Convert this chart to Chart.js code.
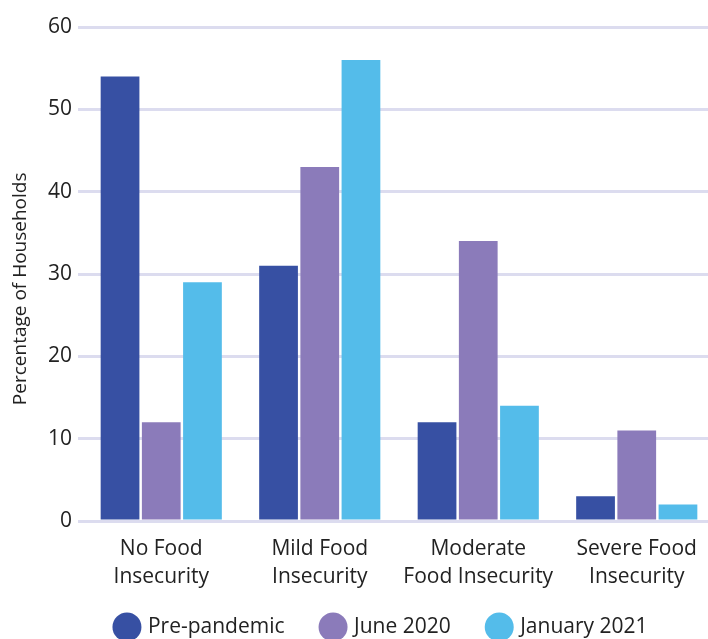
<!DOCTYPE html>
<html>
<head>
<meta charset="utf-8">
<script src="https://cdn.jsdelivr.net/npm/chart.js@4.4.0/dist/chart.umd.min.js"></script>
<style>
  html, body { margin: 0; padding: 0; background: #fff; overflow: hidden; }
  #wrap { width: 708px; height: 639px; overflow: hidden; }
</style>
</head>
<body>
<div id="wrap"><canvas id="chart" width="716" height="666"></canvas></div>
<script>
const CATEGORIES = [
  ["No Food", "Insecurity"],
  ["Mild Food", "Insecurity"],
  ["Moderate", "Food Insecurity"],
  ["Severe Food", "Insecurity"],
];
const SERIES_NAMES = ["Pre-pandemic", "June 2020", "January 2021"];
const PRE_PANDEMIC = [54, 31, 12, 3];
const JUNE_2020 = [12, 43, 34, 11];
const JANUARY_2021 = [29, 56, 14, 2];
const Y_TICKS = [0, 10, 20, 30, 40, 50, 60];
// trailing spaces push the rotated title a little lower, as in the source
const Y_TITLE = 'Percentage of Households      ';

const COLORS = ['#3750a3', '#8b7bba', '#54bcea'];
const FONT = "'Open Sans', 'Noto Sans', sans-serif";
const TEXT_COLOR = '#222222';

Chart.defaults.font.family = FONT;
Chart.defaults.color = TEXT_COLOR;

function make_dataset(i, values) {
  return {
    label: SERIES_NAMES[i],
    data: values,
    backgroundColor: COLORS[i],
    borderWidth: 0,
    categoryPercentage: 0.78,
    barPercentage: 0.94,
  };
}

// the legend row sits a bit right of centre and tucked up close to the labels
const legendShift = {
  id: 'legendShift',
  afterLayout(chart) {
    const lg = chart.legend;
    lg.left += 24;
    lg.right += 24;
    lg.top -= 18.5;
    lg.bottom -= 18.5;
  },
};

const CHART = new Chart(document.getElementById('chart'), {
  type: 'bar',
  data: {
    labels: CATEGORIES,
    datasets: [
      make_dataset(0, PRE_PANDEMIC),
      make_dataset(1, JUNE_2020),
      make_dataset(2, JANUARY_2021),
    ],
  },
  plugins: [legendShift],
  options: {
    responsive: false,
    animation: false,
    layout: {
      padding: { top: 27, left: 0, right: 0, bottom: 0 },
    },
    plugins: {
      tooltip: { enabled: false },
      legend: {
        position: 'bottom',
        labels: {
          usePointStyle: true,
          pointStyle: 'circle',
          boxHeight: 20.5,
          padding: 38,
          font: { size: 21, family: FONT },
          color: TEXT_COLOR,
        },
      },
    },
    scales: {
      x: {
        grid: { display: false },
        border: { display: false },
        ticks: {
          font: { size: 21, family: FONT, lineHeight: 1.38 },
          color: TEXT_COLOR,
          padding: 5,
          maxRotation: 0,
          autoSkip: false,
        },
      },
      y: {
        min: 0,
        max: 60,
        afterBuildTicks: (axis) => {
          axis.ticks = Y_TICKS.map(v => ({ value: v }));
        },
        afterFit: (axis) => { axis.width = 82; },
        grid: {
          color: '#dcdcef',
          lineWidth: 3,
          drawTicks: true,
          tickLength: 4,
        },
        border: { display: false },
        ticks: {
          font: { size: 21, family: FONT },
          color: TEXT_COLOR,
          padding: 6,
        },
        title: {
          display: true,
          text: Y_TITLE,
          font: { size: 19, family: FONT },
          color: TEXT_COLOR,
          padding: { top: 9, bottom: 4 },
        },
      },
    },
  },
});
</script>
</body>
</html>
